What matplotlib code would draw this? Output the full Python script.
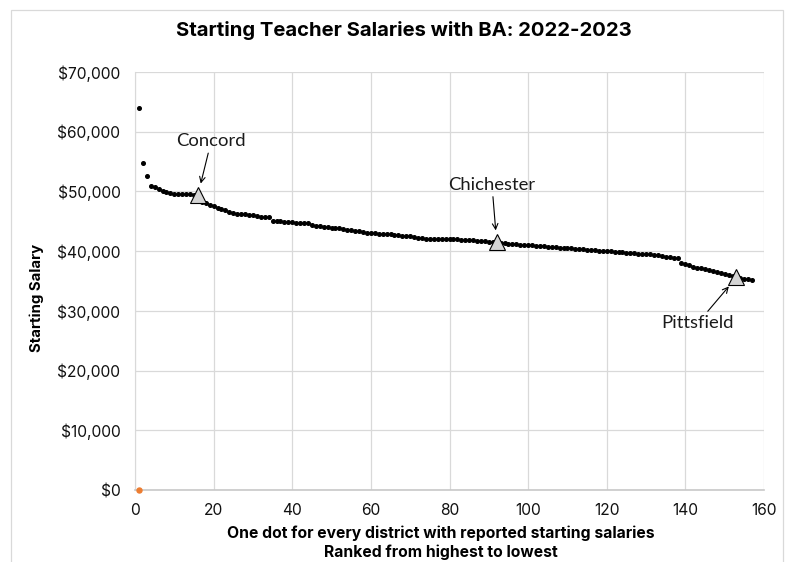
import numpy as np
import matplotlib.pyplot as plt
from matplotlib.patches import Rectangle

# starting salaries, ranked highest to lowest (rank 1..157)
salaries = [
    64000, 54800, 52600, 50900, 50800, 50400, 50100, 49900, 49700, 49600,
    49550, 49500, 49500, 49500, 49450, 49400, 48300, 48100, 47800, 47500,
    47300, 47100, 46900, 46600, 46400, 46300, 46200, 46150, 46100, 46000,
    45900, 45800, 45750, 45700, 45100, 45050, 45000, 44900, 44850, 44800,
    44750, 44700, 44700, 44650, 44300, 44200, 44150, 44100, 44000, 43950,
    43850, 43800, 43700, 43600, 43500, 43450, 43400, 43200, 43100, 43050,
    43000, 42950, 42900, 42850, 42800, 42700, 42650, 42600, 42550, 42500,
    42450, 42200, 42150, 42100, 42100, 42050, 42050, 42000, 42000, 42000,
    41950, 41950, 41900, 41900, 41850, 41800, 41750, 41700, 41650, 41600,
    41550, 41500, 41400, 41300, 41250, 41200, 41150, 41100, 41050, 41000,
    40950, 40900, 40850, 40800, 40750, 40700, 40650, 40600, 40550, 40500,
    40450, 40400, 40350, 40300, 40250, 40200, 40150, 40100, 40050, 40000,
    39950, 39900, 39850, 39800, 39750, 39700, 39650, 39600, 39550, 39500,
    39450, 39400, 39300, 39200, 39100, 39000, 38900, 38800, 38000, 37800,
    37600, 37400, 37250, 37100, 37000, 36800, 36600, 36450, 36300, 36200,
    36000, 35800, 35600, 35500, 35400, 35300, 35200,
]
ranks = np.arange(1, len(salaries) + 1)

# highlighted districts
hl_names = ["Concord", "Chichester", "Pittsfield"]
hl_ranks = [16, 92, 153]
hl_offsets = [(9.6, 38.9), (-3.4, 41.5), (-27.9, -32.9)]

# stray point at zero
zero_rank = [1]
zero_value = [0]

plt.rcParams["font.family"] = ["Inter", "DejaVu Sans"]

fig = plt.figure(figsize=(7.9, 5.62), dpi=100)
ax = fig.add_axes([135 / 790, 72 / 562, 629 / 790, 418 / 562])

ax.plot(ranks, salaries, "o", color="black", markersize=2.6, zorder=3)
ax.plot(zero_rank, zero_value, "o", color="#ED7D31", markersize=3.6, zorder=3,
        clip_on=False)

hl_vals = [salaries[r - 1] for r in hl_ranks]
ax.plot(hl_ranks, hl_vals, "^", color="#d4d4d4", markeredgecolor="black",
        markeredgewidth=0.8, markersize=12, zorder=4)
for name, r, v, off in zip(hl_names, hl_ranks, hl_vals, hl_offsets):
    ax.annotate(name, xy=(r, v), xytext=off, textcoords="offset points",
                ha="center", va="center", fontsize=13.3,
                family=["Lato", "DejaVu Sans"], color="#1a1a1a",
                arrowprops=dict(arrowstyle="->", color="black", lw=0.8,
                                shrinkA=1, shrinkB=8.5, mutation_scale=10))

ax.set_xlim(0, 160)
ax.set_ylim(0, 70000)
ax.set_xticks(np.arange(0, 161, 20))
ax.set_yticks(np.arange(0, 70001, 10000))
ax.set_yticklabels([f"${v:,}" for v in range(0, 70001, 10000)])
ax.tick_params(length=0, labelsize=11.2, colors="#111111")
ax.tick_params(axis="y", pad=10.5)
ax.tick_params(axis="x", pad=9.5)
ax.grid(True, color="#d9d9d9", linewidth=0.9)
ax.set_axisbelow(True)
for s in ["top", "right"]:
    ax.spines[s].set_visible(False)
ax.spines["left"].set_color("#d9d9d9")
ax.spines["bottom"].set_color("#c8c8c8")
ax.spines["bottom"].set_linewidth(1.2)

fig.text(404 / 790, 1 - 31 / 562, "Starting Teacher Salaries with BA: 2022-2023",
         ha="center", va="center", fontsize=14.6, fontweight="bold")
fig.text(37 / 790, 1 - 298 / 562, "Starting Salary", rotation=90,
         ha="center", va="center", fontsize=10.8, fontweight="bold")
fig.text(441 / 790, 1 - 533 / 562,
         "One dot for every district with reported starting salaries",
         ha="center", va="center", fontsize=11.3, fontweight="bold")
fig.text(441 / 790, 1 - 552 / 562, "Ranked from highest to lowest",
         ha="center", va="center", fontsize=11.3, fontweight="bold")

fig.patches.append(Rectangle((11 / 790, -0.05), 772 / 790, 1.05 - 10 / 562,
                             transform=fig.transFigure, fill=False,
                             edgecolor="#d9d9d9", linewidth=0.9))

fig.savefig("out.png", dpi=100)
